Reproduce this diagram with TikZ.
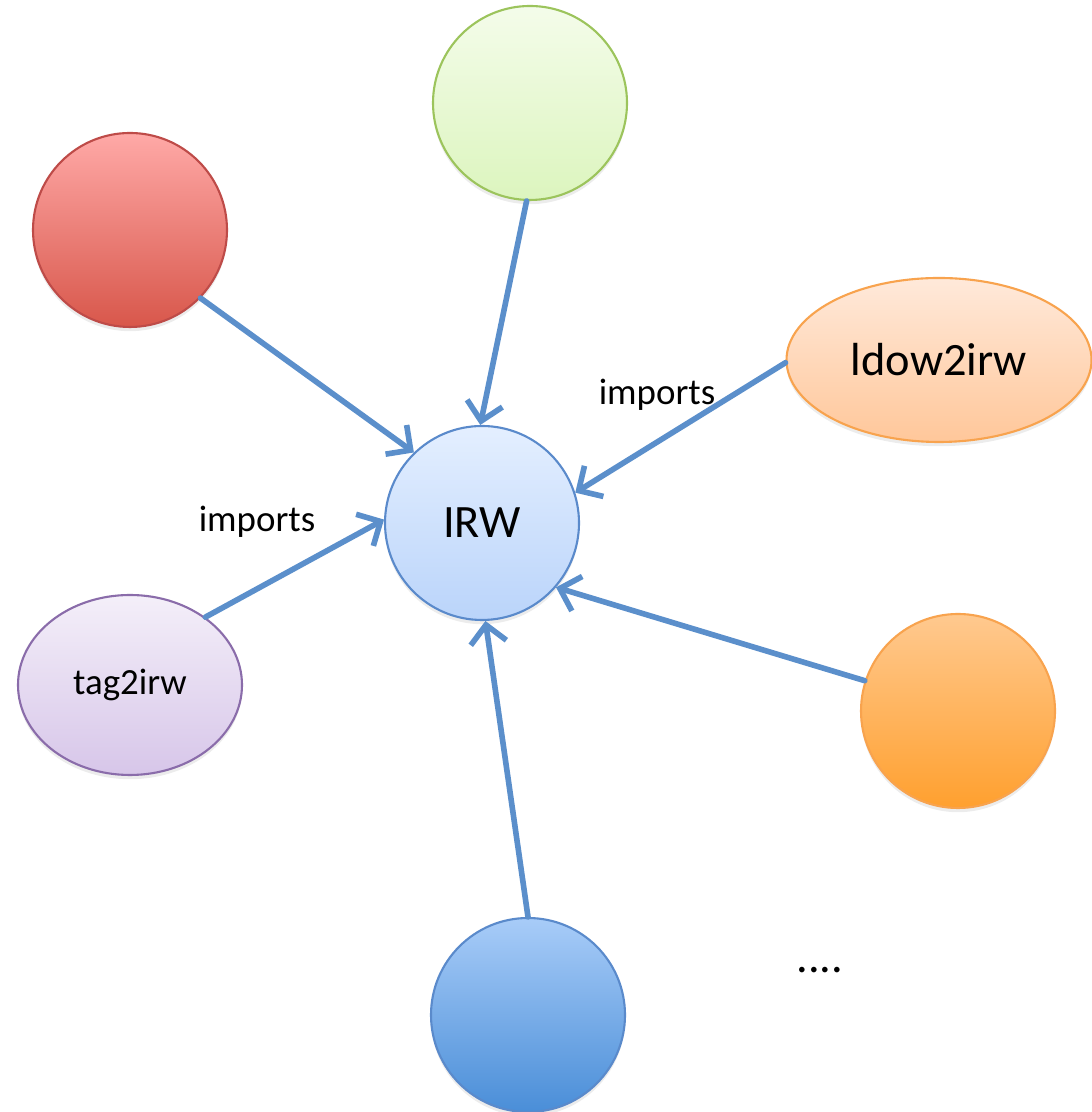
\documentclass[tikz,border=0pt]{standalone}
\usepackage{fontspec}
\setmainfont{Carlito}
\usetikzlibrary{arrows.meta,shapes.geometric,shadows}
\definecolor{irink}{HTML}{000000}
\definecolor{irline}{HTML}{5B8FCB}
\definecolor{irblue}{HTML}{5A8ACB}
\definecolor{irgreen}{HTML}{9CC45C}
\definecolor{irred}{HTML}{BE4B48}
\definecolor{irorange}{HTML}{F8A34E}
\definecolor{irpurple}{HTML}{8A6CAA}
\definecolor{irwtop}{HTML}{E4EFFF}
\definecolor{irwbot}{HTML}{BAD4FA}
\definecolor{grtop}{HTML}{F4FCEA}
\definecolor{grbot}{HTML}{DCF5BE}
\definecolor{rdtop}{HTML}{FFA9A7}
\definecolor{rdbot}{HTML}{D8574B}
\definecolor{ldtop}{HTML}{FFE9DA}
\definecolor{ldbot}{HTML}{FFC79A}
\definecolor{tgtop}{HTML}{F4EFF9}
\definecolor{tgbot}{HTML}{D7C6E9}
\definecolor{ortop}{HTML}{FFC98F}
\definecolor{orbot}{HTML}{FFA02F}
\definecolor{bltop}{HTML}{A8CCF8}
\definecolor{blbot}{HTML}{4A8ED8}
\tikzset{
  ir text/.style={font=\fontsize{10.5pt}{12pt}\selectfont, text=irink},
  ir disc/.style={circle, minimum size=19.4mm, inner sep=0pt, line width=0.6pt,
    drop shadow={shadow xshift=0pt, shadow yshift=-1.2pt, opacity=0.15}},
  ir oval/.style={ellipse, inner sep=0pt, line width=0.6pt,
    drop shadow={shadow xshift=0pt, shadow yshift=-1.2pt, opacity=0.15}},
  ir arrow/.style={-{Straight Barb[length=1.8mm,width=3.6mm,line width=1.6pt]},
    line width=1.6pt, draw=irline, line cap=round},
  ir note/.style={font=\fontsize{10.5pt}{12pt}\selectfont, text=irink},
  ir big/.style={font=\fontsize{13.2pt}{15pt}\selectfont, text=irink}
}
\begin{document}
\begin{tikzpicture}[ir text, x=1cm, y=1cm]
  \useasboundingbox (0,0) rectangle (10.91,11.12);

  % centre
  \node[ir disc, ir big, draw=irblue, top color=irwtop, bottom color=irwbot] (irw) at (4.82,5.89) {IRW};

  % sources
  \node[ir disc, draw=irgreen, top color=grtop, bottom color=grbot] (green) at (5.30,10.09) {};
  \node[ir disc, draw=irred, top color=rdtop, bottom color=rdbot] (red) at (1.30,8.82) {};
  \node[ir oval, ir big, draw=irorange, minimum width=30.5mm, minimum height=16.4mm,
    top color=ldtop, bottom color=ldbot] (ldow) at (9.39,7.52) {ldow2irw};
  \node[ir oval, draw=irpurple, minimum width=22.4mm, minimum height=18.0mm,
    top color=tgtop, bottom color=tgbot] (tag) at (1.30,4.27) {tag2irw};
  \node[ir disc, draw=irorange, top color=ortop, bottom color=orbot] (orange) at (9.58,4.01) {};
  \node[ir disc, draw=irblue, top color=bltop, bottom color=blbot] (blue) at (5.28,0.97) {};

  \node[ir note] (impA) at (6.57,7.17) {imports};
  \node[ir note] (impB) at (2.57,5.90) {imports};
  \node[ir big] (more) at (8.20,1.42) {....};

  % links
  \draw[ir arrow] (red.-44) -- (irw.134);
  \draw[ir arrow] (green.-92) -- (irw.91);
  \draw[ir arrow] (ldow.181) -- (irw.18);
  \draw[ir arrow] (tag.42) -- (irw.178);
  \draw[ir arrow] (orange.162) -- (irw.-41);
  \draw[ir arrow] (blue.north) -- (irw.-88);
\end{tikzpicture}
\end{document}
